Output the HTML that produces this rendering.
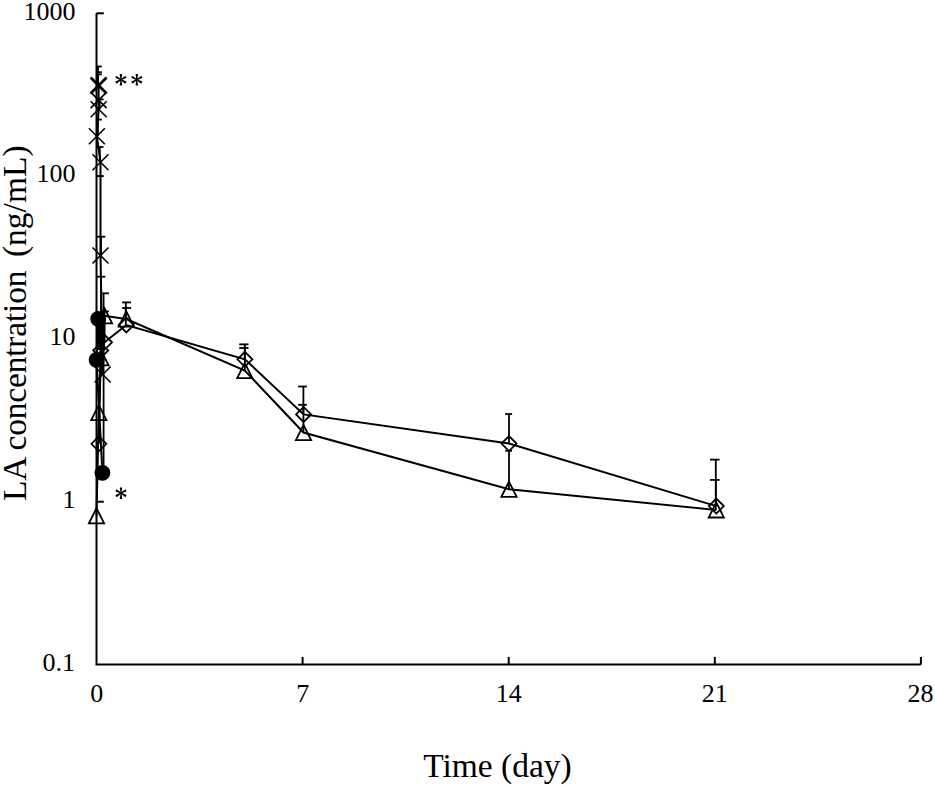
<!DOCTYPE html>
<html><head><meta charset="utf-8"><style>
html,body{margin:0;padding:0;background:#fff;}
body{width:935px;height:787px;overflow:hidden;position:relative;}
svg{position:absolute;left:0;top:0;}
text{font-family:"Liberation Serif",serif;fill:#000;}
</style></head><body>
<svg width="935" height="787" viewBox="0 0 935 787">
<defs><clipPath id="pa"><rect x="97" y="0" width="830" height="665"/></clipPath></defs>
<g stroke="#000" stroke-linecap="butt" stroke-linejoin="miter">
<polyline points="96.5,13.3 96.5,664.5 920.9,664.5" fill="none" stroke-width="2.0"/>
<line x1="96.5" y1="13.3" x2="103.8" y2="13.3" stroke-width="2.0"/>
<line x1="96.5" y1="176.1" x2="103.8" y2="176.1" stroke-width="2.0"/>
<line x1="96.5" y1="338.9" x2="103.8" y2="338.9" stroke-width="2.0"/>
<line x1="96.5" y1="501.7" x2="103.8" y2="501.7" stroke-width="2.0"/>
<line x1="302.6" y1="664.5" x2="302.6" y2="657" stroke-width="2.0"/>
<line x1="508.7" y1="664.5" x2="508.7" y2="657" stroke-width="2.0"/>
<line x1="714.8" y1="664.5" x2="714.8" y2="657" stroke-width="2.0"/>
<line x1="920.9" y1="664.5" x2="920.9" y2="657" stroke-width="2.0"/>
<g clip-path="url(#pa)"><line x1="98" y1="66.5" x2="98" y2="85.5" stroke-width="1.8"/><line x1="93" y1="66.5" x2="101.8" y2="66.5" stroke-width="1.8"/><line x1="98" y1="72.2" x2="98" y2="85.5" stroke-width="1.8"/><line x1="93" y1="72.2" x2="101.8" y2="72.2" stroke-width="1.8"/><line x1="98" y1="74.4" x2="98" y2="85.5" stroke-width="1.8"/><line x1="93" y1="74.4" x2="101.8" y2="74.4" stroke-width="1.8"/><line x1="99.7" y1="99.4" x2="99.7" y2="109" stroke-width="1.8"/><line x1="95" y1="99.4" x2="103.6" y2="99.4" stroke-width="1.8"/><line x1="97.9" y1="119.6" x2="97.9" y2="136" stroke-width="1.8"/><line x1="93" y1="119.6" x2="101.8" y2="119.6" stroke-width="1.8"/><line x1="99.8" y1="147" x2="99.8" y2="162" stroke-width="1.8"/><line x1="95" y1="147" x2="103.5" y2="147" stroke-width="1.8"/><line x1="101" y1="236.7" x2="101" y2="255" stroke-width="1.8"/><line x1="96" y1="236.7" x2="105.3" y2="236.7" stroke-width="1.8"/><line x1="101" y1="276.7" x2="101" y2="372" stroke-width="1.8"/><line x1="96" y1="276.7" x2="105.3" y2="276.7" stroke-width="1.8"/><line x1="103.6" y1="293.3" x2="103.6" y2="472.8" stroke-width="1.8"/><line x1="100.7" y1="293.3" x2="108.9" y2="293.3" stroke-width="1.8"/><line x1="104.6" y1="311.4" x2="104.6" y2="343" stroke-width="1.8"/><line x1="103.2" y1="311.4" x2="108.9" y2="311.4" stroke-width="1.8"/><line x1="125.8" y1="302.4" x2="125.8" y2="319" stroke-width="1.8"/><line x1="122.1" y1="302.4" x2="131.05" y2="302.4" stroke-width="1.8"/><line x1="125.8" y1="308" x2="125.8" y2="325" stroke-width="1.8"/><line x1="122.1" y1="308" x2="131.05" y2="308" stroke-width="1.8"/><line x1="244.8" y1="344.35" x2="244.8" y2="359" stroke-width="1.8"/><line x1="239.2" y1="344.35" x2="248.5" y2="344.35" stroke-width="1.8"/><line x1="244.8" y1="348" x2="244.8" y2="370" stroke-width="1.8"/><line x1="239.2" y1="348" x2="248.5" y2="348" stroke-width="1.8"/><line x1="303.4" y1="386.5" x2="303.4" y2="414" stroke-width="1.8"/><line x1="298.1" y1="386.5" x2="306.9" y2="386.5" stroke-width="1.8"/><line x1="303.4" y1="404.8" x2="303.4" y2="432" stroke-width="1.8"/><line x1="298.1" y1="404.8" x2="306.9" y2="404.8" stroke-width="1.8"/><line x1="509" y1="414" x2="509" y2="443.6" stroke-width="1.8"/><line x1="505.2" y1="414" x2="512.1" y2="414" stroke-width="1.8"/><line x1="509" y1="450.8" x2="509" y2="489" stroke-width="1.8"/><line x1="505.2" y1="450.8" x2="512" y2="450.8" stroke-width="1.8"/><line x1="715.8" y1="459.6" x2="715.8" y2="506" stroke-width="1.8"/><line x1="710" y1="459.6" x2="719.6" y2="459.6" stroke-width="1.8"/><line x1="715.8" y1="479.9" x2="715.8" y2="510" stroke-width="1.8"/><line x1="710" y1="479.9" x2="719.6" y2="479.9" stroke-width="1.8"/></g>
<polyline points="98.6,85.5 98.6,100.1 98.7,109.3 96.9,136.3 100.5,162.2 100.5,255.5 102.7,374.5" fill="none" stroke-width="2.0"/>
<polyline points="98.2,318.9 96.6,359.9 102.4,472.8" fill="none" stroke-width="2.0"/>
<polyline points="98.85,443.8 100.7,350.4 104.5,342.3 126.3,325 244.9,359.3 303.6,414.4 509,443.6 716.3,506.1" fill="none" stroke-width="2.0"/>
<polyline points="96.5,515.7 98.8,412.5 101,357.8 104.5,315.8 126.3,319 244.8,370.6 303.5,432.5 509,489.2 716.3,509.9" fill="none" stroke-width="2.0"/>
<rect x="96" y="318" width="8.8" height="32" fill="#000" stroke="none"/>
<line x1="90.6" y1="92.1" x2="106.6" y2="108.1" stroke-width="1.6"/>
<line x1="90.6" y1="108.1" x2="106.6" y2="92.1" stroke-width="1.6"/>
<line x1="90.7" y1="101.3" x2="106.7" y2="117.3" stroke-width="1.6"/>
<line x1="90.7" y1="117.3" x2="106.7" y2="101.3" stroke-width="1.6"/>
<line x1="88.9" y1="128.3" x2="104.9" y2="144.3" stroke-width="1.6"/>
<line x1="88.9" y1="144.3" x2="104.9" y2="128.3" stroke-width="1.6"/>
<line x1="92.5" y1="154.2" x2="108.5" y2="170.2" stroke-width="1.6"/>
<line x1="92.5" y1="170.2" x2="108.5" y2="154.2" stroke-width="1.6"/>
<line x1="92.5" y1="247.5" x2="108.5" y2="263.5" stroke-width="1.6"/>
<line x1="92.5" y1="263.5" x2="108.5" y2="247.5" stroke-width="1.6"/>
<line x1="94.7" y1="366.5" x2="110.7" y2="382.5" stroke-width="1.6"/>
<line x1="94.7" y1="382.5" x2="110.7" y2="366.5" stroke-width="1.6"/>
<line x1="90.6" y1="77.5" x2="106.6" y2="93.5" stroke-width="2.7"/>
<line x1="90.6" y1="93.5" x2="106.6" y2="77.5" stroke-width="2.7"/>
<circle cx="98.2" cy="318.9" r="7.9" fill="#000" stroke="none"/>
<circle cx="96.6" cy="359.9" r="7.9" fill="#000" stroke="none"/>
<circle cx="102.4" cy="472.8" r="7.9" fill="#000" stroke="none"/>
<polygon points="91.35,443.8 98.85,436.3 106.35,443.8 98.85,451.3" fill="none" stroke-width="1.8"/>
<polygon points="93.2,350.4 100.7,342.9 108.2,350.4 100.7,357.9" fill="none" stroke-width="1.8"/>
<polygon points="97,342.3 104.5,334.8 112,342.3 104.5,349.8" fill="none" stroke-width="1.8"/>
<polygon points="118.8,325 126.3,317.5 133.8,325 126.3,332.5" fill="none" stroke-width="1.8"/>
<polygon points="237.4,359.3 244.9,351.8 252.4,359.3 244.9,366.8" fill="none" stroke-width="1.8"/>
<polygon points="296.1,414.4 303.6,406.9 311.1,414.4 303.6,421.9" fill="none" stroke-width="1.8"/>
<polygon points="501.5,443.6 509,436.1 516.5,443.6 509,451.1" fill="none" stroke-width="1.8"/>
<polygon points="708.8,506.1 716.3,498.6 723.8,506.1 716.3,513.6" fill="none" stroke-width="1.8"/>
<polygon points="96.5,508.1 104.1,523.3 88.9,523.3" fill="none" stroke-width="1.8"/>
<polygon points="98.8,404.9 106.4,420.1 91.2,420.1" fill="none" stroke-width="1.8"/>
<polygon points="101,350.2 108.6,365.4 93.4,365.4" fill="none" stroke-width="1.8"/>
<polygon points="104.5,308.2 112.1,323.4 96.9,323.4" fill="none" stroke-width="1.8"/>
<polygon points="126.3,311.4 133.9,326.6 118.7,326.6" fill="none" stroke-width="1.8"/>
<polygon points="244.8,363 252.4,378.2 237.2,378.2" fill="none" stroke-width="1.8"/>
<polygon points="303.5,424.9 311.1,440.1 295.9,440.1" fill="none" stroke-width="1.8"/>
<polygon points="509,481.6 516.6,496.8 501.4,496.8" fill="none" stroke-width="1.8"/>
<polygon points="716.3,502.3 723.9,517.5 708.7,517.5" fill="none" stroke-width="1.8"/>
<g fill="#000" stroke="none"><polygon points="121.4,79.7 122.1,73.9 119.7,73.9 120.4,79.7"/><polygon points="121.15,79.27 116.48,75.76 115.28,77.84 120.65,80.13"/><polygon points="120.65,79.27 115.28,81.56 116.48,83.64 121.15,80.13"/><polygon points="120.4,79.7 119.7,85.5 122.1,85.5 121.4,79.7"/><polygon points="120.65,80.13 125.32,83.64 126.52,81.56 121.15,79.27"/><polygon points="121.15,80.13 126.52,77.84 125.32,75.76 120.65,79.27"/></g>
<g fill="#000" stroke="none"><polygon points="137.3,79.7 138,73.9 135.6,73.9 136.3,79.7"/><polygon points="137.05,79.27 132.38,75.76 131.18,77.84 136.55,80.13"/><polygon points="136.55,79.27 131.18,81.56 132.38,83.64 137.05,80.13"/><polygon points="136.3,79.7 135.6,85.5 138,85.5 137.3,79.7"/><polygon points="136.55,80.13 141.22,83.64 142.42,81.56 137.05,79.27"/><polygon points="137.05,80.13 142.42,77.84 141.22,75.76 136.55,79.27"/></g>
<g fill="#000" stroke="none"><polygon points="121.5,493.2 122.2,487.4 119.8,487.4 120.5,493.2"/><polygon points="121.25,492.77 116.58,489.26 115.38,491.34 120.75,493.63"/><polygon points="120.75,492.77 115.38,495.06 116.58,497.14 121.25,493.63"/><polygon points="120.5,493.2 119.8,499 122.2,499 121.5,493.2"/><polygon points="120.75,493.63 125.42,497.14 126.62,495.06 121.25,492.77"/><polygon points="121.25,493.63 126.62,491.34 125.42,489.26 120.75,492.77"/></g>
</g>
<g font-size="26" text-anchor="end">
<text x="75.5" y="19.6">1000</text>
<text x="75.5" y="182.4">100</text>
<text x="75.5" y="345.2">10</text>
<text x="75.5" y="508">1</text>
<text x="75" y="670.8">0.1</text>
</g>
<g font-size="26" text-anchor="middle">
<text x="96.7" y="701.8">0</text>
<text x="302.7" y="701.8">7</text>
<text x="508.7" y="701.8">14</text>
<text x="714.8" y="701.8">21</text>
<text x="920.5" y="701.8">28</text>
</g>
<text x="497.5" y="777.2" font-size="33.5" text-anchor="middle">Time (day)</text>
<text transform="translate(25.9,501) rotate(-90)" font-size="33.5" xml:space="preserve"><tspan letter-spacing="-0.2">LA concentration </tspan><tspan dx="5.5">(ng/mL)</tspan></text>
</svg>
</body></html>
